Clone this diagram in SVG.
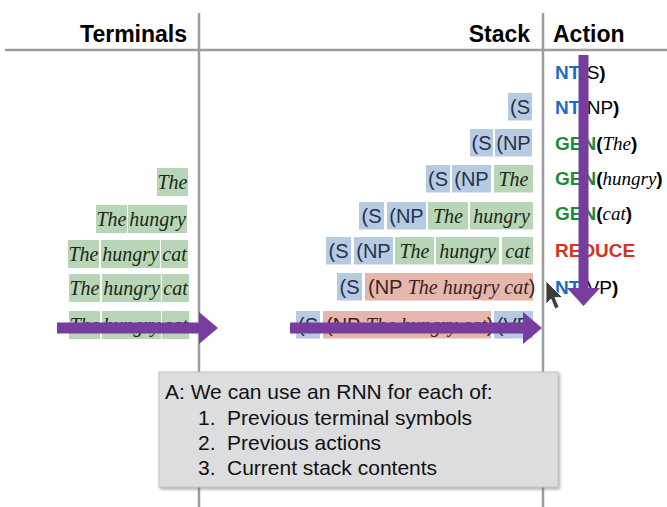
<svg xmlns="http://www.w3.org/2000/svg" width="667" height="507" viewBox="0 0 667 507">
<defs>
<style>
.hdr{font-family:"Liberation Sans",Arial,sans-serif;font-weight:bold;font-size:23px;fill:#000}
.grid{stroke:#9c9c9c;stroke-width:2.5;fill:none}
.nt{fill:#b6cbe2}
.tm{fill:#b8d5b8}
.rd{fill:#e4b6ac}
.sx{font-family:"Liberation Sans",Arial,sans-serif;font-size:20px;fill:#26324c;text-anchor:middle}
.it{font-family:"Liberation Serif","Times New Roman",serif;font-style:italic;font-size:20px;fill:#1c2814;text-anchor:middle}
.pk{font-family:"Liberation Sans",Arial,sans-serif;font-size:20px;fill:#3a231c}
.pki{font-family:"Liberation Serif","Times New Roman",serif;font-style:italic}
.act{font-family:"Liberation Sans",Arial,sans-serif;font-size:19px;font-weight:bold;fill:#000}
.reg{font-weight:normal}
.sit{font-family:"Liberation Serif","Times New Roman",serif;font-style:italic;font-weight:normal}
.cnt{fill:#1a6dc6}
.cgen{fill:#1c8a38}
.cred{fill:#d2341c}
.note{font-family:"Liberation Sans",Arial,sans-serif;font-size:21px;fill:#111}
.arr{fill:#763c9e}
</style>
<filter id="sh" x="-5%" y="-5%" width="115%" height="120%">
<feDropShadow dx="1.5" dy="2" stdDeviation="1.5" flood-color="#777" flood-opacity="0.6"/>
</filter>
</defs>
<rect width="667" height="507" fill="#fff"/>

<g id="grid">
<line class="grid" x1="5" y1="50" x2="667" y2="50"/>
<line class="grid" x1="199" y1="13" x2="199" y2="507"/>
<line class="grid" x1="543" y1="13" x2="543" y2="507"/>
</g>

<g id="headers">
<text class="hdr" x="187" y="42" text-anchor="end">Terminals</text>
<text class="hdr" x="530" y="42" text-anchor="end">Stack</text>
<text class="hdr" x="553" y="42">Action</text>
</g>

<g id="terminals">
<g id="term-row4">
<rect class="tm" x="157" y="168" width="31" height="28"/><text class="it" x="172.5" y="188.5">The</text>
</g>
<g id="term-row5">
<rect class="tm" x="96" y="205" width="31" height="28"/><text class="it" x="111.5" y="225.5">The</text>
<rect class="tm" x="128" y="205" width="59" height="28"/><text class="it" x="157.5" y="225.5">hungry</text>
</g>
<g id="term-row6">
<rect class="tm" x="68" y="240" width="31" height="28"/><text class="it" x="83.5" y="260.5">The</text>
<rect class="tm" x="101" y="240" width="59" height="28"/><text class="it" x="130.5" y="260.5">hungry</text>
<rect class="tm" x="161" y="240" width="27" height="28"/><text class="it" x="174.5" y="260.5">cat</text>
</g>
<g id="term-row7">
<rect class="tm" x="69" y="274" width="31" height="28"/><text class="it" x="84.5" y="294.5">The</text>
<rect class="tm" x="102" y="274" width="59" height="28"/><text class="it" x="131.5" y="294.5">hungry</text>
<rect class="tm" x="162" y="274" width="27" height="28"/><text class="it" x="175.5" y="294.5">cat</text>
</g>
<g id="term-row8">
<rect class="tm" x="69" y="311" width="31" height="28"/><text class="it" x="84.5" y="331.5">The</text>
<rect class="tm" x="102" y="311" width="59" height="28"/><text class="it" x="131.5" y="331.5">hungry</text>
<rect class="tm" x="162" y="311" width="27" height="28"/><text class="it" x="175.5" y="331.5">cat</text>
</g>
</g>

<g id="stack">
<g id="stack-row2">
<rect class="nt" x="508" y="93" width="24" height="27.5"/><text class="sx" x="520" y="113.5">(S</text>
</g>
<g id="stack-row3">
<rect class="nt" x="470" y="129" width="23" height="27.5"/><text class="sx" x="481.5" y="149.5">(S</text>
<rect class="nt" x="495" y="129" width="37" height="27.5"/><text class="sx" x="513.5" y="149.5">(NP</text>
</g>
<g id="stack-row4">
<rect class="nt" x="426" y="165" width="24" height="27.5"/><text class="sx" x="438" y="185.5">(S</text>
<rect class="nt" x="452" y="165" width="39" height="27.5"/><text class="sx" x="471.5" y="185.5">(NP</text>
<rect class="tm" x="494" y="165" width="39" height="27.5"/><text class="it" x="513.5" y="185.5">The</text>
</g>
<g id="stack-row5">
<rect class="nt" x="359" y="202" width="25" height="27.5"/><text class="sx" x="371.5" y="222.5">(S</text>
<rect class="nt" x="387" y="202" width="39" height="27.5"/><text class="sx" x="406.5" y="222.5">(NP</text>
<rect class="tm" x="428" y="202" width="40" height="27.5"/><text class="it" x="448" y="222.5">The</text>
<rect class="tm" x="470" y="202" width="63" height="27.5"/><text class="it" x="501.5" y="222.5">hungry</text>
</g>
<g id="stack-row6">
<rect class="nt" x="326" y="237" width="25" height="27.5"/><text class="sx" x="338.5" y="257.5">(S</text>
<rect class="nt" x="354" y="237" width="39" height="27.5"/><text class="sx" x="373.5" y="257.5">(NP</text>
<rect class="tm" x="395" y="237" width="39" height="27.5"/><text class="it" x="414.5" y="257.5">The</text>
<rect class="tm" x="436" y="237" width="63" height="27.5"/><text class="it" x="467.5" y="257.5">hungry</text>
<rect class="tm" x="502" y="237" width="31" height="27.5"/><text class="it" x="517.5" y="257.5">cat</text>
</g>
<g id="stack-row7">
<rect class="nt" x="337" y="273" width="25" height="27.5"/><text class="sx" x="349.5" y="293.5">(S</text>
<rect class="rd" x="365" y="273" width="168" height="27.5"/>
<text class="pk" x="368" y="293.5">(NP <tspan class="pki">The hungry cat</tspan>)</text>
</g>
<g id="stack-row8">
<rect class="nt" x="296" y="311" width="24" height="27.5"/><text class="sx" x="308" y="331.5">(S</text>
<rect class="rd" x="323" y="311" width="168" height="27.5"/>
<text class="pk" x="326" y="331.5">(NP <tspan class="pki">The hungry cat</tspan>)</text>
<rect class="nt" x="494" y="311" width="39" height="27.5"/><text class="sx" x="513.5" y="331.5">(VP</text>
</g>
</g>

<g id="actions">
<text id="act1" class="act" x="555" y="79"><tspan class="cnt">NT</tspan>(<tspan class="reg">S</tspan>)</text>
<text id="act2" class="act" x="555" y="114"><tspan class="cnt">NT</tspan>(<tspan class="reg">NP</tspan>)</text>
<text id="act3" class="act" x="555" y="150"><tspan class="cgen">GEN</tspan>(<tspan class="sit">The</tspan>)</text>
<text id="act4" class="act" x="555" y="185"><tspan class="cgen">GEN</tspan>(<tspan class="sit">hungry</tspan>)</text>
<text id="act5" class="act" x="555" y="220"><tspan class="cgen">GEN</tspan>(<tspan class="sit">cat</tspan>)</text>
<text id="act6" class="act cred" x="555" y="257">REDUCE</text>
<text id="act7" class="act" x="555" y="294"><tspan class="cnt">NT</tspan>(<tspan class="reg">VP</tspan>)</text>
</g>

<g id="connectors">
<path class="arr" d="M57,322.5 H199 V312 L218,328 L199,344 V333.5 H57 Z"/>
<path class="arr" d="M290,322.5 H523 V312 L542,328 L523,344 V333.5 H290 Z"/>
<path class="arr" d="M578.5,55 H588.5 V288 H600 L583.5,306 L567,288 H578.5 Z"/>
</g>

<g id="cursor">
<path d="M546,281 L546,304 L551,299 L555,309 L559,307 L555,297.5 L562.5,297.5 Z" fill="#3c3c3c" stroke="#fff" stroke-width="0.8"/>
</g>

<g id="note">
<rect x="159" y="372" width="399" height="115" fill="#dcdddf" stroke="#c4c4c4" stroke-width="1" filter="url(#sh)"/>
<text class="note" x="165" y="399">A: We can use an RNN for each of:</text>
<text class="note" x="198" y="425">1.</text><text class="note" x="227" y="425">Previous terminal symbols</text>
<text class="note" x="198" y="450">2.</text><text class="note" x="227" y="450">Previous actions</text>
<text class="note" x="198" y="475">3.</text><text class="note" x="227" y="475">Current stack contents</text>
</g>
</svg>
